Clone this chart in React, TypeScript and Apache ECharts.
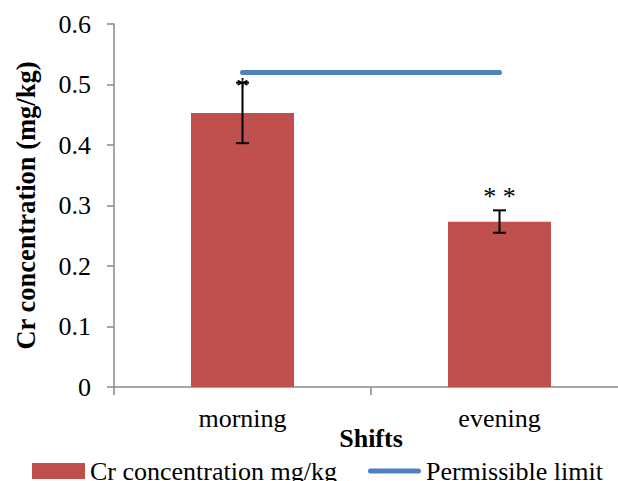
import React, { useEffect, useRef } from "react";
import * as echarts from "echarts";

const categories = ["morning", "evening"];
const crValues = [0.453, 0.273];
const errLow = [0.403, 0.255];
const errHigh = [0.503, 0.292];
const limitValues = [0.52, 0.52];
const annotations = ["*", "* *"];
const annotationValues = [0.503, 0.322];

const FONT = "'Liberation Serif', 'Times New Roman', serif";

export default function App() {
  const ref = useRef<HTMLDivElement>(null);
  useEffect(() => {
    const chart = echarts.init(ref.current!, null, { renderer: "svg" });
    chart.setOption({
      animation: false,
      backgroundColor: "#ffffff",
      textStyle: { fontFamily: FONT, color: "#000" },
      grid: { left: 114, top: 24, width: 514, height: 363, containLabel: false },
      legend: {
        left: 32,
        top: 458,
        padding: 0,
        itemWidth: 53,
        itemHeight: 16,
        itemGap: 31,
        textStyle: { fontFamily: FONT, fontSize: 26, color: "#000" },
        data: [
          { name: "Cr concentration mg/kg", icon: "rect" },
          {
            name: "Permissible limit",
            icon: "path://M2.5,0 L50.5,0 A2.5,2.5 0 0 1 50.5,5 L2.5,5 A2.5,2.5 0 0 1 2.5,0 Z",
          },
        ],
      },
      xAxis: {
        type: "category",
        data: categories,
        name: "Shifts",
        nameLocation: "middle",
        nameGap: 38,
        nameMoveOverlap: false,
        nameTextStyle: { fontFamily: FONT, fontSize: 26, fontWeight: "bold", color: "#000" },
        axisLine: { show: true, lineStyle: { color: "#898989", width: 1.5 } },
        axisTick: { show: true, length: 8, lineStyle: { color: "#898989", width: 1.5 } },
        axisLabel: { fontFamily: FONT, fontSize: 26, color: "#000", margin: 18 },
        splitLine: { show: false },
      },
      yAxis: {
        type: "value",
        min: 0,
        max: 0.6,
        interval: 0.1,
        name: "Cr concentration (mg/kg)",
        nameLocation: "middle",
        nameGap: 75,
        nameMoveOverlap: false,
        nameTextStyle: { fontFamily: FONT, fontSize: 26.5, fontWeight: "bold", color: "#000" },
        axisLine: { show: true, lineStyle: { color: "#898989", width: 1.5 } },
        axisTick: { show: true, length: 7, lineStyle: { color: "#898989", width: 1.5 } },
        axisLabel: { fontFamily: FONT, fontSize: 26, color: "#000", margin: 23 },
        splitLine: { show: false },
      },
      series: [
        {
          name: "Cr concentration mg/kg",
          type: "bar",
          data: crValues,
          barWidth: 103,
          itemStyle: { color: "#c0504d" },
        },
        {
          name: "errors",
          type: "custom",
          data: categories.map((_, i) => [i, errLow[i], errHigh[i], annotationValues[i]]),
          encode: { x: 0, y: [1, 2] },
          z: 3,
          renderItem: (params: any, api: any) => {
            const idx = api.value(0);
            const lo = api.coord([idx, api.value(1)]);
            const hi = api.coord([idx, api.value(2)]);
            const an = api.coord([idx, api.value(3)]);
            const x = lo[0];
            const hw = 6.5;
            const style = { stroke: "#000", lineWidth: 2 };
            return {
              type: "group",
              children: [
                { type: "line", shape: { x1: x, y1: lo[1], x2: x, y2: hi[1] }, style },
                { type: "line", shape: { x1: x - hw, y1: lo[1], x2: x + hw, y2: lo[1] }, style },
                { type: "line", shape: { x1: x - hw, y1: hi[1], x2: x + hw, y2: hi[1] }, style },
                {
                  type: "text",
                  x: x,
                  y: an[1] + 4,
                  style: {
                    text: annotations[params.dataIndex],
                    fill: "#000",
                    fontFamily: FONT,
                    fontSize: 26,
                    align: "center",
                    verticalAlign: "middle",
                  },
                },
              ],
            };
          },
        },
        {
          name: "Permissible limit",
          type: "line",
          data: limitValues,
          symbol: "none",
          z: 4,
          lineStyle: { color: "#4f81bd", width: 5, cap: "round" },
          itemStyle: { color: "#4f81bd" },
        },
      ],
    });
    return () => chart.dispose();
  }, []);
  return (
    <div
      ref={ref}
      style={{ position: "fixed", left: 0, top: 0, width: 640, height: 481, background: "#fff" }}
    />
  );
}
